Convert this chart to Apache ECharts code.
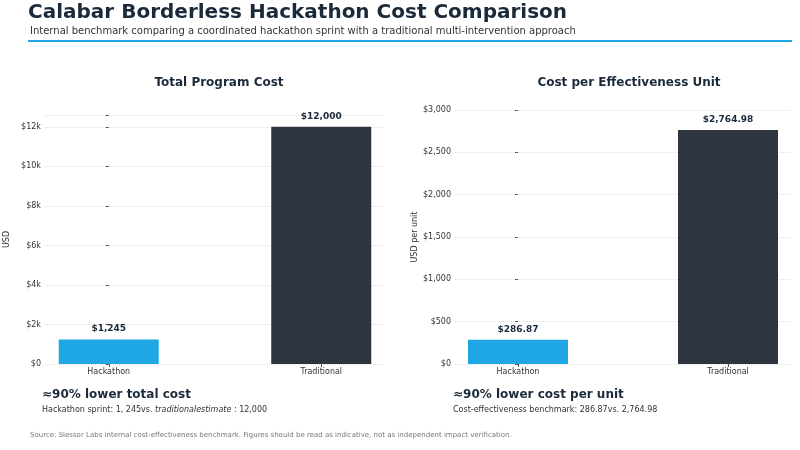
<!DOCTYPE html><html><head><meta charset="utf-8"><script src="https://cdn.jsdelivr.net/npm/echarts@6/dist/echarts.min.js"></script></head><body style="margin:0"><div id="c" style="width:800px;height:450px"></div><script>
const categories=['Hackathon','Traditional'];
const totalCost=[1245,12000];
const costPerUnit=[286.87,2764.98];
const leftTicks=['$0','$2k','$4k','$6k','$8k','$10k','$12k'];
const colors=['#1ea7e4','#2e3440'];
const F='DejaVu Sans';
const ch=echarts.init(document.getElementById('c'));
function xa(i){return {type:'value',gridIndex:i,min:-0.3,max:1.3,axisLine:{show:false},splitLine:{show:false},
 axisTick:{show:true,customValues:[0,1],length:3,lineStyle:{color:'#555'}},
 axisLabel:{customValues:[0,1],formatter:v=>categories[Math.round(v)],color:'#333',fontSize:8,fontFamily:F,margin:4}};}
function ya(i,max,interval,fmt,name){return {type:'value',gridIndex:i,min:0,max:max,interval:interval,name:name,nameLocation:'middle',nameGap:i?36:34,
 nameTextStyle:{fontSize:8,color:'#333',fontFamily:F},axisLine:{show:false},axisTick:{show:true,length:3,lineStyle:{color:'#555'}},
 splitLine:{lineStyle:{color:'#dde1e6',type:'dotted'}},axisLabel:{formatter:fmt,fontSize:8,color:'#333',fontFamily:F,margin:4,
 customValues:undefined}};}
function ser(i,vals,fmt){return {type:'bar',xAxisIndex:i,yAxisIndex:i,barWidth:100,
 data:vals.map((v,k)=>({value:[k,v],itemStyle:{color:colors[k]}})),
 label:{show:true,position:'top',distance:6,formatter:p=>fmt(p.value[1]),fontSize:9,fontWeight:'bold',color:'#1b2a3a',fontFamily:F}};}
ch.setOption({animation:false,
 graphic:[
  {type:'text',left:28,top:3,style:{text:'Calabar Borderless Hackathon Cost Comparison',font:'bold 20px "DejaVu Sans"',fill:'#1b2a3a'}},
  {type:'text',left:30,top:26,style:{text:'Internal benchmark comparing a coordinated hackathon sprint with a traditional multi-intervention approach',font:'10px "DejaVu Sans"',fill:'#333'}},
  {type:'rect',shape:{x:28,y:40,width:764,height:2},style:{fill:'#1ea7e4'}},
  {type:'text',left:42,top:389,style:{text:'≈90% lower total cost',font:'bold 12px "DejaVu Sans"',fill:'#1b2a3a'}},
  {type:'text',left:42,top:406,style:{rich:{a:{font:'8px "DejaVu Sans"',fill:'#333'},b:{font:'italic 8px "DejaVu Sans"',fill:'#333'}},text:'{a|Hackathon sprint: 1, 245vs. }{b|traditionalestimate}{a| : 12,000}'}},
  {type:'text',left:453,top:389,style:{text:'≈90% lower cost per unit',font:'bold 12px "DejaVu Sans"',fill:'#1b2a3a'}},
  {type:'text',left:453,top:406,style:{text:'Cost-effectiveness benchmark: 286.87vs. 2,764.98',font:'8px "DejaVu Sans"',fill:'#333'}},
  {type:'text',left:30,top:432,style:{text:'Source: Slessor Labs internal cost-effectiveness benchmark. Figures should be read as indicative, not as independent impact verification.',font:'7px "DejaVu Sans"',fill:'#777'}}
 ],
 title:[{text:'Total Program Cost',left:214,top:72,textAlign:'center',textStyle:{fontSize:12,fontWeight:'bold',color:'#1b2a3a',fontFamily:F}},
        {text:'Cost per Effectiveness Unit',left:624,top:72,textAlign:'center',textStyle:{fontSize:12,fontWeight:'bold',color:'#1b2a3a',fontFamily:F}}],
 grid:[{left:45,top:115,width:340,height:249},{left:455,top:110,width:336,height:254}],
 xAxis:[xa(0),xa(1)],
 yAxis:[ya(0,12600,2000,v=>v>12000?'':leftTicks[v/2000],'USD'),ya(1,3000,500,v=>'$'+v.toLocaleString('en-US')+(v?'':'')+'','USD per unit')],
 series:[ser(0,totalCost,v=>'$'+v.toLocaleString('en-US')),ser(1,costPerUnit,v=>'$'+v.toLocaleString('en-US',{minimumFractionDigits:2}))]
});
</script></body></html>
